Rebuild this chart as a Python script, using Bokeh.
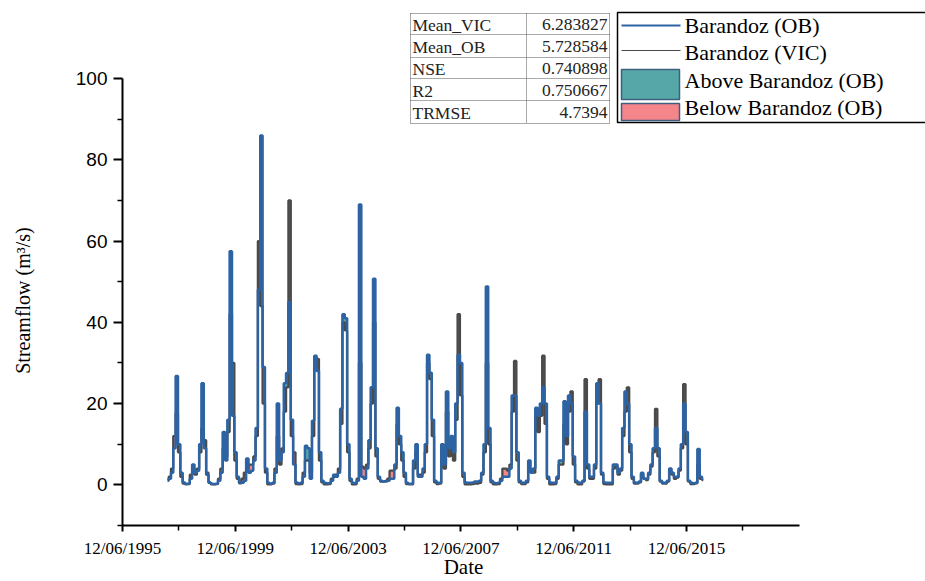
import math
import numpy as np
import pandas as pd
from bokeh.plotting import figure
from bokeh.models import Range1d, FixedTicker, DatetimeTickFormatter, Label, BoxAnnotation, ColumnDataSource
from bokeh.embed import file_html
from bokeh.resources import INLINE

# ---------------- data (monthly streamflow, m3/s) ----------------
start_month = "1997-01-01"

ob_flow = [
    1.0, 1.5, 3.0, 9.0, 26.8, 10.0, 3.0, 0.6, 0.3, 0.3, 1.5, 5.0,      # 1997
    3.0, 3.5, 10.0, 25.0, 9.0, 2.5, 0.6, 0.3, 0.2, 0.3, 1.0, 3.0,      # 1998
    13.0, 6.0, 16.0, 57.5, 17.0, 8.0, 2.0, 0.6, 0.5, 1.0, 6.5, 3.0,    # 1999
    3.5, 6.0, 14.0, 48.0, 86.0, 29.0, 4.0, 0.5, 0.3, 0.5, 3.0, 20.0,   # 2000
    6.0, 8.0, 25.0, 27.5, 45.0, 16.0, 5.0, 0.6, 0.4, 0.5, 2.0, 9.6,    # 2001
    9.0, 1.5, 15.8, 31.8, 28.0, 8.0, 1.0, 0.5, 0.4, 0.4, 1.0, 2.5,     # 2002
    2.0, 3.0, 18.7, 42.0, 41.0, 10.0, 1.5, 0.5, 0.4, 1.0, 69.0, 2.0,   # 2003
    1.5, 4.0, 11.0, 24.0, 50.7, 9.0, 2.0, 1.0, 0.8, 0.8, 1.0, 1.5,     # 2004
    1.5, 5.0, 19.0, 12.0, 8.0, 3.0, 0.5, 0.3, 0.3, 6.0, 10.0, 2.0,     # 2005
    2.0, 4.0, 10.0, 32.0, 27.6, 16.0, 1.0, 0.5, 0.5, 10.0, 5.0, 23.0,  # 2006
    9.0, 12.0, 8.0, 20.0, 32.0, 30.0, 3.0, 0.6, 0.5, 0.5, 0.6, 0.8,    # 2007
    0.8, 1.0, 3.0, 10.0, 48.8, 14.0, 1.0, 0.5, 0.4, 0.5, 1.0, 2.0,     # 2008
    2.0, 2.0, 4.0, 22.0, 22.0, 8.0, 1.0, 0.5, 0.5, 1.0, 6.0, 3.0,      # 2009
    4.0, 19.0, 17.0, 20.0, 24.0, 20.0, 2.0, 0.6, 0.5, 0.5, 2.0, 6.0,   # 2010
    6.0, 20.6, 12.0, 22.0, 20.0, 7.0, 1.0, 0.6, 0.5, 1.0, 18.0, 5.0,   # 2011
    2.0, 2.0, 5.0, 25.0, 20.0, 3.0, 0.6, 0.5, 0.5, 0.5, 5.0, 5.0,      # 2012
    3.0, 4.0, 14.0, 23.0, 20.0, 10.0, 2.0, 0.6, 0.5, 0.8, 3.0, 1.5,    # 2013
    1.5, 3.0, 5.0, 9.0, 14.0, 9.0, 1.0, 0.5, 0.5, 1.0, 4.0, 3.0,       # 2014
    2.0, 2.0, 4.0, 10.0, 20.0, 13.0, 1.0, 0.5, 0.4, 0.5, 8.8, 2.0,     # 2015
    1.5,                                                               # 2016
]

vic_flow = [
    1.5, 2.0, 4.0, 12.0, 17.5, 8.0, 2.0, 0.3, 0.1, 0.2, 2.5, 4.0,      # 1997
    2.5, 4.0, 8.0, 14.0, 11.0, 3.0, 0.5, 0.1, 0.1, 0.2, 1.5, 4.0,      # 1998
    9.0, 7.0, 13.0, 42.0, 30.0, 6.0, 1.5, 0.4, 1.5, 3.0, 4.0, 5.0,     # 1999
    5.0, 7.0, 12.0, 60.0, 44.0, 20.0, 3.0, 0.1, 0.1, 0.3, 4.0, 12.0,   # 2000
    5.0, 9.0, 18.0, 24.0, 70.0, 12.0, 8.0, 0.2, 0.1, 0.2, 3.0, 6.0,    # 2001
    6.0, 3.0, 12.0, 29.0, 31.0, 6.0, 0.6, 0.1, 0.1, 0.2, 1.5, 2.0,     # 2002
    2.5, 4.0, 15.0, 40.0, 38.0, 8.0, 1.0, 0.1, 0.1, 1.5, 30.0, 4.5,    # 2003
    4.0, 5.0, 9.0, 20.0, 40.0, 7.0, 1.5, 0.8, 0.8, 1.0, 1.5, 3.5,      # 2004
    3.5, 4.0, 15.0, 10.0, 6.0, 2.0, 0.2, 0.1, 0.1, 4.0, 8.0, 2.5,      # 2005
    2.5, 3.0, 8.0, 30.0, 26.0, 12.0, 0.6, 0.2, 0.3, 7.0, 4.0, 18.0,    # 2006
    7.0, 10.0, 6.0, 16.0, 42.0, 22.0, 2.0, 0.1, 0.1, 0.1, 0.2, 0.3,    # 2007
    0.3, 0.5, 2.5, 8.0, 30.0, 10.0, 0.6, 0.1, 0.1, 0.2, 1.5, 4.0,      # 2008
    4.0, 3.5, 5.0, 18.0, 30.5, 6.0, 0.6, 0.2, 0.2, 0.6, 4.0, 3.5,      # 2009
    3.0, 17.5, 13.0, 17.0, 31.8, 15.0, 1.5, 0.1, 0.1, 0.2, 1.5, 5.0,   # 2010
    5.0, 15.0, 10.0, 18.0, 23.0, 5.0, 0.6, 0.1, 0.1, 0.8, 26.0, 4.0,   # 2011
    1.5, 1.5, 4.0, 20.0, 26.0, 2.5, 0.2, 0.1, 0.1, 0.1, 4.0, 4.5,      # 2012
    2.5, 3.5, 12.0, 18.0, 24.0, 8.0, 1.5, 0.3, 0.3, 0.6, 2.5, 1.5,     # 2013
    1.2, 2.5, 4.5, 8.0, 18.7, 7.0, 0.8, 0.3, 0.3, 0.8, 3.5, 2.5,       # 2014
    1.5, 1.8, 3.5, 9.0, 24.8, 10.0, 0.8, 0.2, 0.2, 0.4, 5.0, 1.5,      # 2015
    1.2,                                                               # 2016
]

stat_names = ["Mean_VIC", "Mean_OB", "NSE", "R2", "TRMSE"]
stat_values = ["6.283827", "5.728584", "0.740898", "0.750667", "4.7394"]

legend_names = ["Barandoz (OB)", "Barandoz (VIC)", "Above Barandoz (OB)", "Below Barandoz (OB)"]

x_tick_years = [1995, 1999, 2003, 2007, 2011, 2015]
x_minor_years = [1997, 2001, 2005, 2009, 2013, 2017]
y_ticks = [0, 20, 40, 60, 80, 100]
y_minor = [-10, 10, 30, 50, 70, 90]

# ---------------- styling / layout ----------------
OB_COLOR = "#2d62a3"
VIC_COLOR = "#4a4a4a"
TEAL = "#56a8a8"
PINK = "#f4858b"
SERIF = "Liberation Serif"
SANS = "Liberation Sans"

W, H = 925, 581
AX_LEFT, AX_BOTTOM = 122, 525      # pixel position of the axes corner

def ms(ts):
    return pd.Timestamp(ts).value / 1e6

x_origin = pd.Timestamp("1995-06-12")
px_per_day = 564.0 / (pd.Timestamp("2015-06-12") - x_origin).days
px_per_unit = 447.0 / 110.0

def xd(px):  # canvas pixel -> data x (ms)
    return ms(x_origin + pd.Timedelta(days=(px - AX_LEFT) / px_per_day))

def yd(py):  # canvas pixel -> data y
    return -10 + (AX_BOTTOM - py) / px_per_unit

dates = pd.date_range(start_month, periods=len(ob_flow), freq="MS") + pd.Timedelta(days=14)
ob = np.array(ob_flow)
vic = np.array(vic_flow)
top = np.maximum(ob, vic)
src = ColumnDataSource(dict(x=dates, ob=ob, vic=vic, top=top))

p = figure(x_axis_type="datetime", width=W, height=H,
           x_range=Range1d(xd(0), xd(W)), y_range=Range1d(yd(H), yd(0)),
           output_backend="svg", toolbar_location=None,
           min_border_left=0, min_border_right=0, min_border_top=0, min_border_bottom=0)
p.outline_line_color = None
p.xgrid.visible = False
p.ygrid.visible = False
p.background_fill_color = "white"
p.border_fill_color = "white"

# fills between the curves
p.varea_step(x="x", y1="vic", y2="top", source=src, step_mode="center", fill_color=TEAL)
p.varea_step(x="x", y1="ob", y2="top", source=src, step_mode="center", fill_color=PINK)
# lines
p.step(x="x", y="vic", source=src, mode="center", line_color=VIC_COLOR, line_width=2.3)
p.step(x="x", y="ob", source=src, mode="center", line_color=OB_COLOR, line_width=2.5)

# axes (fixed inside the frame at the axes corner)
xt = FixedTicker(ticks=[ms(f"{y}-06-12") for y in x_tick_years],
                 minor_ticks=[ms(f"{y}-06-12") for y in x_minor_years])
p.xaxis.ticker = xt
fmt = "%d/%m/%Y"
p.xaxis.formatter = DatetimeTickFormatter(days=fmt, months=fmt, years=fmt)
p.xaxis.bounds = (ms(x_origin), ms("2019-06-12"))
p.xaxis.fixed_location = -10
p.yaxis.ticker = FixedTicker(ticks=y_ticks, minor_ticks=y_minor)
p.yaxis.bounds = (-10, 100)
p.yaxis.fixed_location = ms(x_origin)
for ax in (p.xaxis, p.yaxis):
    ax.axis_line_color = "black"
    ax.axis_line_width = 2
    ax.major_tick_line_color = "black"
    ax.major_tick_line_width = 2
    ax.minor_tick_line_color = "black"
    ax.minor_tick_line_width = 1.5
    ax.major_tick_in = 0
    ax.minor_tick_in = 0
    ax.major_label_text_color = "black"
p.xaxis.major_tick_out = 6
p.xaxis.minor_tick_out = 5
p.xaxis.major_label_standoff = 7
p.xaxis.major_label_text_font = SERIF
p.xaxis.major_label_text_font_size = "17px"
p.yaxis.major_tick_out = 9
p.yaxis.minor_tick_out = 5
p.yaxis.major_label_standoff = 6
p.yaxis.major_label_text_font = SANS
p.yaxis.major_label_text_font_size = "19px"

# axis titles
p.add_layout(Label(x=xd(463), y=yd(566), text="Date", text_align="center", text_baseline="middle",
                   text_font=SERIF, text_font_size="21px", text_color="black"))
p.add_layout(Label(x=xd(22), y=yd(300), text="Streamflow (m³/s)", angle=math.pi / 2,
                   text_align="center", text_baseline="middle",
                   text_font=SERIF, text_font_size="20px", text_color="black"))

# ---------------- statistics table ----------------
tl, tm, tr = 410, 526, 609
row_lines = [13, 34, 57, 78, 100, 123]
p.add_layout(BoxAnnotation(left=xd(tl), right=xd(tr), top=yd(13), bottom=yd(123),
                           fill_color="white", fill_alpha=1, line_alpha=0, level="underlay"))
seg_x0 = [xd(tl)] * len(row_lines) + [xd(tl), xd(tm), xd(tr)]
seg_x1 = [xd(tr)] * len(row_lines) + [xd(tl), xd(tm), xd(tr)]
seg_y0 = [yd(r) for r in row_lines] + [yd(13)] * 3
seg_y1 = [yd(r) for r in row_lines] + [yd(123)] * 3
p.segment(x0=seg_x0, y0=seg_y0, x1=seg_x1, y1=seg_y1, line_color="#555555",
          line_width=1, line_dash="1 1")
row_centers = [24, 46, 68, 90, 112]
for name, val, rc in zip(stat_names, stat_values, row_centers):
    p.add_layout(Label(x=xd(412), y=yd(rc), text=name, text_align="left", text_baseline="middle",
                       text_font=SERIF, text_font_size="17.5px", text_color="#222222"))
    p.add_layout(Label(x=xd(607), y=yd(rc), text=val, text_align="right", text_baseline="middle",
                       text_font=SERIF, text_font_size="17.5px", text_color="#222222"))

# ---------------- legend ----------------
p.add_layout(BoxAnnotation(left=xd(617), right=xd(960), top=yd(12), bottom=yd(122),
                           fill_color="white", fill_alpha=1, line_color="black",
                           line_alpha=1, line_width=1.5, level="underlay"))
p.segment(x0=[xd(621)], y0=[yd(25)], x1=[xd(680)], y1=[yd(25)], line_color=OB_COLOR, line_width=2)
p.segment(x0=[xd(621)], y0=[yd(50)], x1=[xd(680)], y1=[yd(50)], line_color=VIC_COLOR, line_width=1)
p.add_layout(BoxAnnotation(left=xd(621), right=xd(679), top=yd(69), bottom=yd(99),
                           fill_color=TEAL, fill_alpha=1, line_color="#3f5f7f",
                           line_alpha=1, line_width=1.5))
p.add_layout(BoxAnnotation(left=xd(621), right=xd(679), top=yd(103), bottom=yd(120),
                           fill_color=PINK, fill_alpha=1, line_color="#3f5f7f",
                           line_alpha=1, line_width=1.5))
for name, cy in zip(legend_names, [25, 52, 80, 107]):
    p.add_layout(Label(x=xd(684), y=yd(cy), text=name, text_align="left", text_baseline="middle",
                       text_font=SERIF, text_font_size="22px", text_color="black"))

open("out.html", "w").write(file_html(p, INLINE))
